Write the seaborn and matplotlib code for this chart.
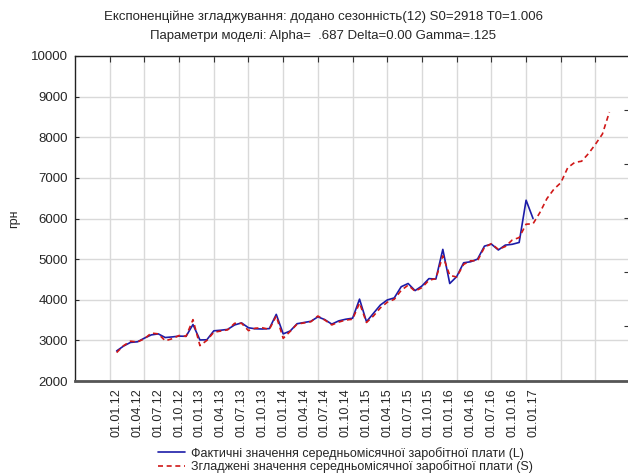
import pandas as pd
import matplotlib
matplotlib.use("Agg")
import matplotlib.pyplot as plt
import seaborn as sns

# --- Data ---
title_1 = "Експоненційне згладжування: додано сезонність(12) S0=2918 T0=1.006"
title_2 = "Параметри моделі: Alpha=  .687 Delta=0.00 Gamma=.125"
y_label = "грн"
label_actual = "Фактичні значення середньомісячної заробітної плати (L)"
label_smooth = "Згладжені значення середньомісячної заробітної плати (S)"

# monthly values, case 1 = January 2012
actual = [2740, 2860, 2950, 2965, 3055, 3135, 3160, 3070, 3085, 3105,
          3100, 3390, 3010, 3015, 3235, 3250, 3270, 3380, 3430, 3310,
          3285, 3280, 3290, 3640, 3160, 3230, 3410, 3440, 3470, 3580,
          3510, 3400, 3480, 3520, 3545, 4015, 3460, 3665, 3870, 3995,
          4045, 4320, 4400, 4225, 4340, 4520, 4510, 5240, 4400, 4570,
          4910, 4935, 5000, 5320, 5370, 5225, 5345, 5365, 5410, 6450, 6000]

smoothed = [2700, 2870, 2980, 2960, 3040, 3180, 3160, 2990, 3040, 3120,
            3100, 3510, 2870, 3000, 3200, 3230, 3260, 3420, 3420, 3240,
            3300, 3310, 3270, 3600, 3050, 3220, 3400, 3430, 3460, 3600,
            3500, 3380, 3450, 3500, 3520, 3920, 3440, 3600, 3800, 3940,
            4010, 4230, 4360, 4210, 4300, 4480, 4520, 5080, 4600, 4560,
            4870, 4960, 4960, 5290, 5380, 5240, 5310, 5470, 5530, 5860, 5870,
            6150, 6490, 6720, 6880, 7250, 7380, 7410, 7600, 7830, 8080, 8620]

date_labels = ["01.01.12", "01.04.12", "01.07.12", "01.10.12",
               "01.01.13", "01.04.13", "01.07.13", "01.10.13",
               "01.01.14", "01.04.14", "01.07.14", "01.10.14",
               "01.01.15", "01.04.15", "01.07.15", "01.10.15",
               "01.01.16", "01.04.16", "01.07.16", "01.10.16",
               "01.01.17"]
date_cases = [1 + 3 * i for i in range(len(date_labels))]

df_act = pd.DataFrame({"case": range(1, len(actual) + 1), "value": actual})
df_sm = pd.DataFrame({"case": range(1, len(smoothed) + 1), "value": smoothed})

# --- Style ---
sns.set_style("white")
plt.rcParams['font.family'] = ['Liberation Sans', 'DejaVu Sans']

fig = plt.figure(figsize=(6.28, 4.75), dpi=100)
ax = fig.add_axes([75 / 628, (475 - 381) / 475, (629.5 - 75) / 628, (381 - 56) / 475])

sns.lineplot(data=df_act, x="case", y="value", ax=ax, color="#1c1ca8",
             lw=1.2, label=label_actual)
sns.lineplot(data=df_sm, x="case", y="value", ax=ax, color="#d01818",
             lw=1.2, linestyle=(0, (3, 2.2)), label=label_smooth)

ax.set_xlim(-5, 74.9)
ax.set_ylim(2000, 10000)
ax.set_yticks(range(2000, 10001, 1000))
ax.set_xticks(range(0, 75, 5))
ax.set_xticklabels([])
ax.xaxis.remove_overlapping_locs = False
ax.set_xticks(date_cases, minor=True)
ax.set_xticklabels(date_labels, minor=True, rotation=90, fontsize=9)

ax.grid(True, color="#d9d9d9", lw=1)
ax.set_axisbelow(True)
ax.tick_params(axis="x", which="major", direction="in", length=4, top=True,
               color="#333333")
ax.tick_params(axis="x", which="minor", length=0, pad=5)
ax.tick_params(axis="y", direction="in", length=3, labelsize=9.5, pad=5)

for side in ["left", "top"]:
    ax.spines[side].set_color("#222222")
    ax.spines[side].set_linewidth(1)
ax.spines["bottom"].set_color("#555555")
ax.spines["bottom"].set_linewidth(2)
ax.spines["right"].set_visible(False)

ax.set_xlabel("")
ax.set_ylabel(y_label, fontsize=9)
ax.yaxis.set_label_coords(-0.099, 0.5)

# short marks on the right edge
ax2 = ax.twinx()
ax2.set_ylim(2000, 10000)
ax2.set_yticks([3353, 4681, 6010, 7338, 8667])
ax2.set_yticklabels([])
ax2.tick_params(axis="y", direction="in", length=4, color="#333333")
ax2.grid(False)
for s in ax2.spines.values():
    s.set_visible(False)

handles, labels = ax.get_legend_handles_labels()
ax.get_legend().remove()
fig.legend(handles, labels, loc="lower center", bbox_to_anchor=(0.55, -0.02),
           frameon=False, fontsize=9, handlelength=2.2, labelspacing=0.05,
           handletextpad=0.5)

fig.text(0.515, 1 - 17 / 475, title_1, ha="center", va="center", fontsize=9.5)
fig.text(0.515, 1 - 36 / 475, title_2, ha="center", va="center", fontsize=9.5)

fig.savefig("out.png", dpi=100, facecolor="white")
